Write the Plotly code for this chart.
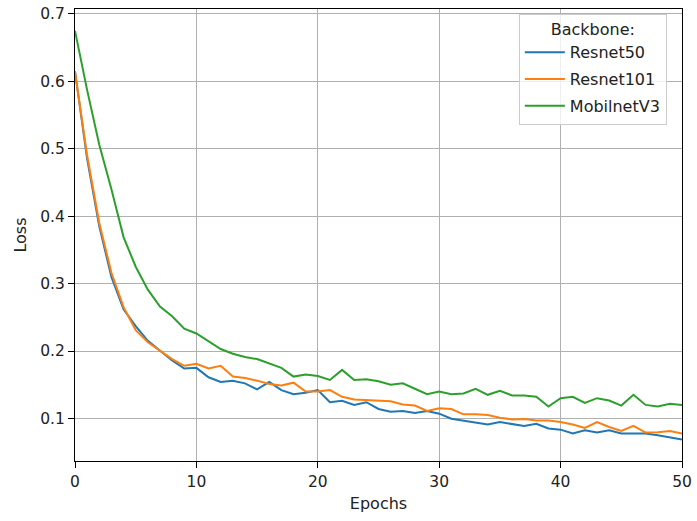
import plotly.graph_objects as go

epochs = list(range(51))
resnet50 = [0.615, 0.485, 0.385, 0.310, 0.262, 0.237, 0.215, 0.201, 0.186, 0.174,
            0.175, 0.161, 0.154, 0.156, 0.152, 0.143, 0.154, 0.142, 0.136, 0.138,
            0.142, 0.124, 0.126, 0.120, 0.124, 0.114, 0.110, 0.111, 0.108, 0.111,
            0.107, 0.0995, 0.097, 0.0946, 0.091, 0.0946, 0.092, 0.0887, 0.092, 0.085,
            0.0833, 0.0775, 0.0824, 0.079, 0.0824, 0.0775, 0.0775, 0.0775, 0.075, 0.0716,
            0.0687]
resnet101 = [0.614, 0.490, 0.390, 0.316, 0.265, 0.231, 0.213, 0.201, 0.188, 0.178,
             0.181, 0.174, 0.178, 0.162, 0.160, 0.156, 0.151, 0.149, 0.153, 0.140,
             0.140, 0.142, 0.132, 0.128, 0.1275, 0.127, 0.1255, 0.1206, 0.119, 0.111,
             0.115, 0.114, 0.106, 0.106, 0.105, 0.101, 0.0985, 0.099, 0.097, 0.097,
             0.0946, 0.091, 0.0858, 0.0946, 0.0873, 0.0814, 0.089, 0.079, 0.0795, 0.0814,
             0.0775]
mobilenetv3 = [0.675, 0.587, 0.506, 0.440, 0.369, 0.325, 0.291, 0.266, 0.2515, 0.233,
               0.226, 0.214, 0.203, 0.196, 0.191, 0.188, 0.181, 0.175, 0.162, 0.165,
               0.163, 0.157, 0.172, 0.157, 0.158, 0.155, 0.150, 0.152, 0.144, 0.136,
               0.140, 0.136, 0.137, 0.144, 0.135, 0.141, 0.134, 0.134, 0.132, 0.1176,
               0.130, 0.132, 0.123, 0.130, 0.1265, 0.119, 0.135, 0.120, 0.1176, 0.1216,
               0.120]

series_names = ["Resnet50", "Resnet101", "MobilnetV3"]
series_values = [resnet50, resnet101, mobilenetv3]
colors = ["#1f77b4", "#ff7f0e", "#2ca02c"]

fig = go.Figure()
for name, vals, col in zip(series_names, series_values, colors):
    fig.add_trace(go.Scatter(x=epochs, y=vals, mode="lines", name=name,
                             legendgroup=name,
                             line=dict(color=col, width=2)))

font = dict(family="DejaVu Sans", size=16, color="#222222")
tickfont = dict(family="DejaVu Sans", size=15.5, color="#222222")
axis_common = dict(
    showline=True, linecolor="black", linewidth=1, mirror=True,
    ticks="outside", ticklen=6, tickwidth=1, tickcolor="black",
    showgrid=True, gridcolor="#b0b0b0", gridwidth=1,
    zeroline=False, tickfont=tickfont,
)

fig.update_layout(
    width=697, height=521,
    margin=dict(l=75, r=12, t=5, b=60),
    paper_bgcolor="white", plot_bgcolor="white",
    font=font,
    xaxis=dict(range=[0, 50], tickvals=[0, 10, 20, 30, 40, 50],
               title=dict(text="Epochs", font=font, standoff=8), **axis_common),
    yaxis=dict(range=[0.0368, 0.7074], tickvals=[0.1, 0.2, 0.3, 0.4, 0.5, 0.6, 0.7],
               tickformat=".1f",
               title=dict(text="Loss", font=font, standoff=9), **axis_common),
    legend=dict(
        title=dict(text="Backbone:", side="top center", font=font),
        x=0.975, y=0.99, xanchor="right", yanchor="top",
        bgcolor="rgba(255,255,255,0.8)", bordercolor="#cccccc", borderwidth=1,
        font=font, itemwidth=40, tracegroupgap=3,
    ),
    showlegend=True,
)

fig.write_html("out.html", config={"displayModeBar": False},
               post_script="document.body.style.margin='0px';")
